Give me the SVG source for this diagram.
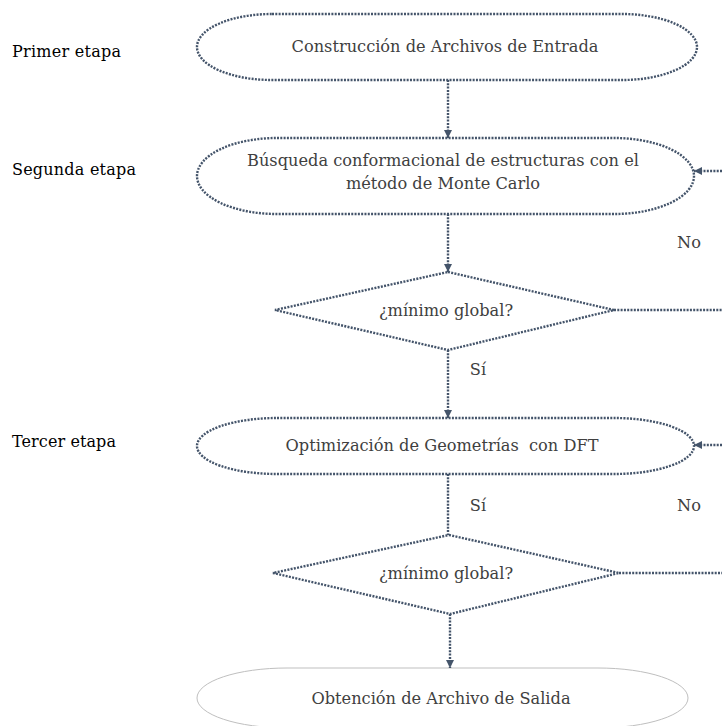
<svg xmlns="http://www.w3.org/2000/svg" width="722" height="726" viewBox="0 0 722 726">
<defs>
<style>
.dot{fill:none;stroke:#44546a;stroke-width:2.4;stroke-dasharray:2 1.3;}
.solid{fill:none;stroke:#bfbfbf;stroke-width:1;}
.t{font-family:"DejaVu Serif","Liberation Serif",serif;font-size:16.2px;fill:#404040;text-anchor:middle;}
.lbl{font-family:"DejaVu Serif","Liberation Serif",serif;font-size:16px;fill:#000;}
</style>
<marker id="ah" viewBox="0 0 10 10" refX="10" refY="5" markerWidth="8" markerHeight="8" markerUnits="userSpaceOnUse" orient="auto">
<path d="M0,0 L10,5 L0,10 z" fill="#44546a"/>
</marker>
</defs>
<rect width="722" height="726" fill="#fff"/>
<g id="labels">
<text class="lbl" x="12" y="57" textLength="109">Primer etapa</text>
<text class="lbl" x="12" y="175" textLength="124">Segunda etapa</text>
<text class="lbl" x="12" y="447" textLength="104">Tercer etapa</text>
</g>
<g id="n1">
<rect class="dot" x="197" y="14" width="500" height="66" rx="75" ry="33"/>
<text class="t" x="445" y="52">Construcción de Archivos de Entrada</text>
</g>
<g id="n2">
<rect class="dot" x="197" y="138" width="497" height="76" rx="80" ry="38"/>
<text class="t" x="443" y="166">Búsqueda conformacional de estructuras con el</text>
<text class="t" x="443" y="189">método de Monte Carlo</text>
</g>
<g id="d1">
<polygon class="dot" points="448,272 614,310 448,350 275,310"/>
<text class="t" x="446" y="316">¿mínimo global?</text>
</g>
<g id="n3">
<rect class="dot" x="197" y="418" width="497" height="56" rx="80" ry="28"/>
<text class="t" x="442" y="451">Optimización de Geometrías&#160; con DFT</text>
</g>
<g id="d2">
<polygon class="dot" points="449,535 619,573 450,614 273,573"/>
<text class="t" x="446" y="579">¿mínimo global?</text>
</g>
<g id="n4">
<rect class="solid" x="197" y="668" width="491" height="60" rx="90" ry="30"/>
<text class="t" x="441" y="704">Obtención de Archivo de Salida</text>
</g>
<g id="connectors">
<path class="dot" d="M448,80 V138" marker-end="url(#ah)"/>
<path class="dot" d="M448,214 V272" marker-end="url(#ah)"/>
<path class="dot" d="M448,350 V418" marker-end="url(#ah)"/>
<path class="dot" d="M448,474 V535"/>
<path class="dot" d="M450,614 V668" marker-end="url(#ah)"/>
<path class="dot" d="M614,310 H722"/>
<path class="dot" d="M722,171 H694" marker-end="url(#ah)"/>
<path class="dot" d="M619,573 H722"/>
<path class="dot" d="M722,445 H694" marker-end="url(#ah)"/>
</g>
<g id="edge-labels">
<text class="t" x="478" y="375">Sí</text>
<text class="t" x="689" y="248">No</text>
<text class="t" x="478" y="511">Sí</text>
<text class="t" x="689" y="511">No</text>
</g>
</svg>
